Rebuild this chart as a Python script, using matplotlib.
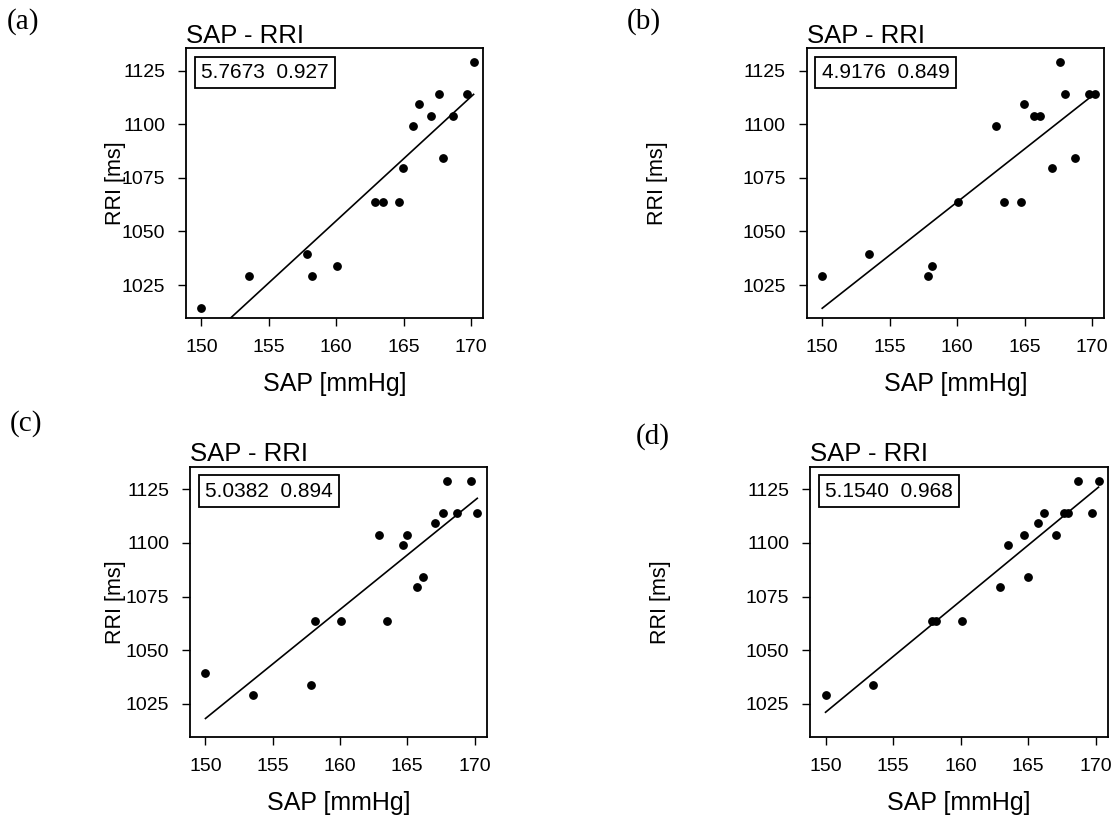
"""SAP - RRI scatter panels with regression lines"""
import numpy as np
import matplotlib
matplotlib.use("Agg")
import matplotlib.pyplot as plt

plt.rcParams['font.family'] = ['Liberation Sans', 'DejaVu Sans']

# systolic pressure values (same beats in every panel)
sap = [150.0, 153.5, 157.85, 158.17, 160.08, 162.9, 163.5, 164.7, 164.98,
       165.72, 166.17, 167.06, 167.65, 167.96, 168.7, 169.73, 170.2]

rri_a = [1014.4, 1029.2, 1039.5, 1029.2, 1033.9, 1063.7, 1063.7, 1063.7, 1079.6,
         1099.2, 1109.6, 1103.9, 1114.1, 1084.4, 1103.9, 1114.1, 1129.1]
rri_b = [1029.2, 1039.5, 1029.2, 1033.9, 1063.7, 1099.2, 1063.7, 1063.7, 1109.7,
         1103.9, 1103.9, 1079.7, 1129.1, 1114.3, 1084.4, 1114.3, 1114.3]
rri_c = [1039.3, 1028.9, 1033.6, 1063.5, 1063.5, 1103.6, 1063.5, 1099.0, 1103.6,
         1079.4, 1084.0, 1109.4, 1114.1, 1129.0, 1114.1, 1129.0, 1114.1]
rri_d = [1029.0, 1033.6, 1063.6, 1063.6, 1063.5, 1079.5, 1099.0, 1103.6, 1084.2,
         1109.4, 1114.1, 1103.6, 1114.1, 1114.1, 1129.0, 1114.1, 1129.0]

panel_letters = ['(a)', '(b)', '(c)', '(d)']
slope_texts = ['5.7673  0.927', '4.9176  0.849', '5.0382  0.894', '5.1540  0.968']

x_ticks = [150, 155, 160, 165, 170]
y_ticks = [1025, 1050, 1075, 1100, 1125]

fig = plt.figure(figsize=(11.13, 8.25), dpi=100)

# [left, bottom, width, height] in figure fraction
rects = [
    [186 / 1113, 0.6142, 297 / 1113, 0.3273],
    [806.7 / 1113, 0.6142, 297.6 / 1113, 0.3273],
    [190 / 1113, 0.1068, 296.7 / 1113, 0.3273],
    [810 / 1113, 0.1068, 298 / 1113, 0.3273],
]
ylabel_x = [-0.202, -0.466, -0.216, -0.467]
letter_pos = [(7, 22), (627, 22), (10, 424), (636, 437)]

all_rri = [rri_a, rri_b, rri_c, rri_d]

for i in range(4):
    ax = fig.add_axes(rects[i])
    x = np.array(sap)
    y = np.array(all_rri[i])
    ax.plot(x, y, 'o', color='black', ms=5.3, mec='black')
    k, b = np.polyfit(x, y, 1)
    xs = np.array([x.min(), x.max()])
    ax.plot(xs, k * xs + b, color='black', lw=1.2)

    ax.set_xlim(148.85, 170.9)
    ax.set_ylim(1009.5, 1135.5)
    ax.set_xticks(x_ticks)
    ax.set_yticks(y_ticks)
    ax.tick_params(direction='out', length=6, width=1.0, labelsize=14, pad=9, color='black')
    for sp in ax.spines.values():
        sp.set_linewidth(1.3)

    ax.set_title('SAP - RRI', loc='left', fontsize=18.5, pad=4)
    ax.set_xlabel('SAP [mmHg]', fontsize=18)
    ax.set_ylabel('RRI [ms]', fontsize=15.5)
    ax.xaxis.set_label_coords(0.5, -0.2)
    ax.yaxis.set_label_coords(ylabel_x[i], 0.5)

    ax.text(0.05, 0.945, slope_texts[i], transform=ax.transAxes, fontsize=15,
            ha='left', va='top',
            bbox=dict(boxstyle='square,pad=0.3', fc='white', ec='black', lw=1.3))

    lx, ly = letter_pos[i]
    fig.text(lx / 1113, 1 - ly / 825, panel_letters[i], fontsize=21,
             family='Liberation Serif', ha='left', va='center')

fig.savefig('out.png', dpi=100)
